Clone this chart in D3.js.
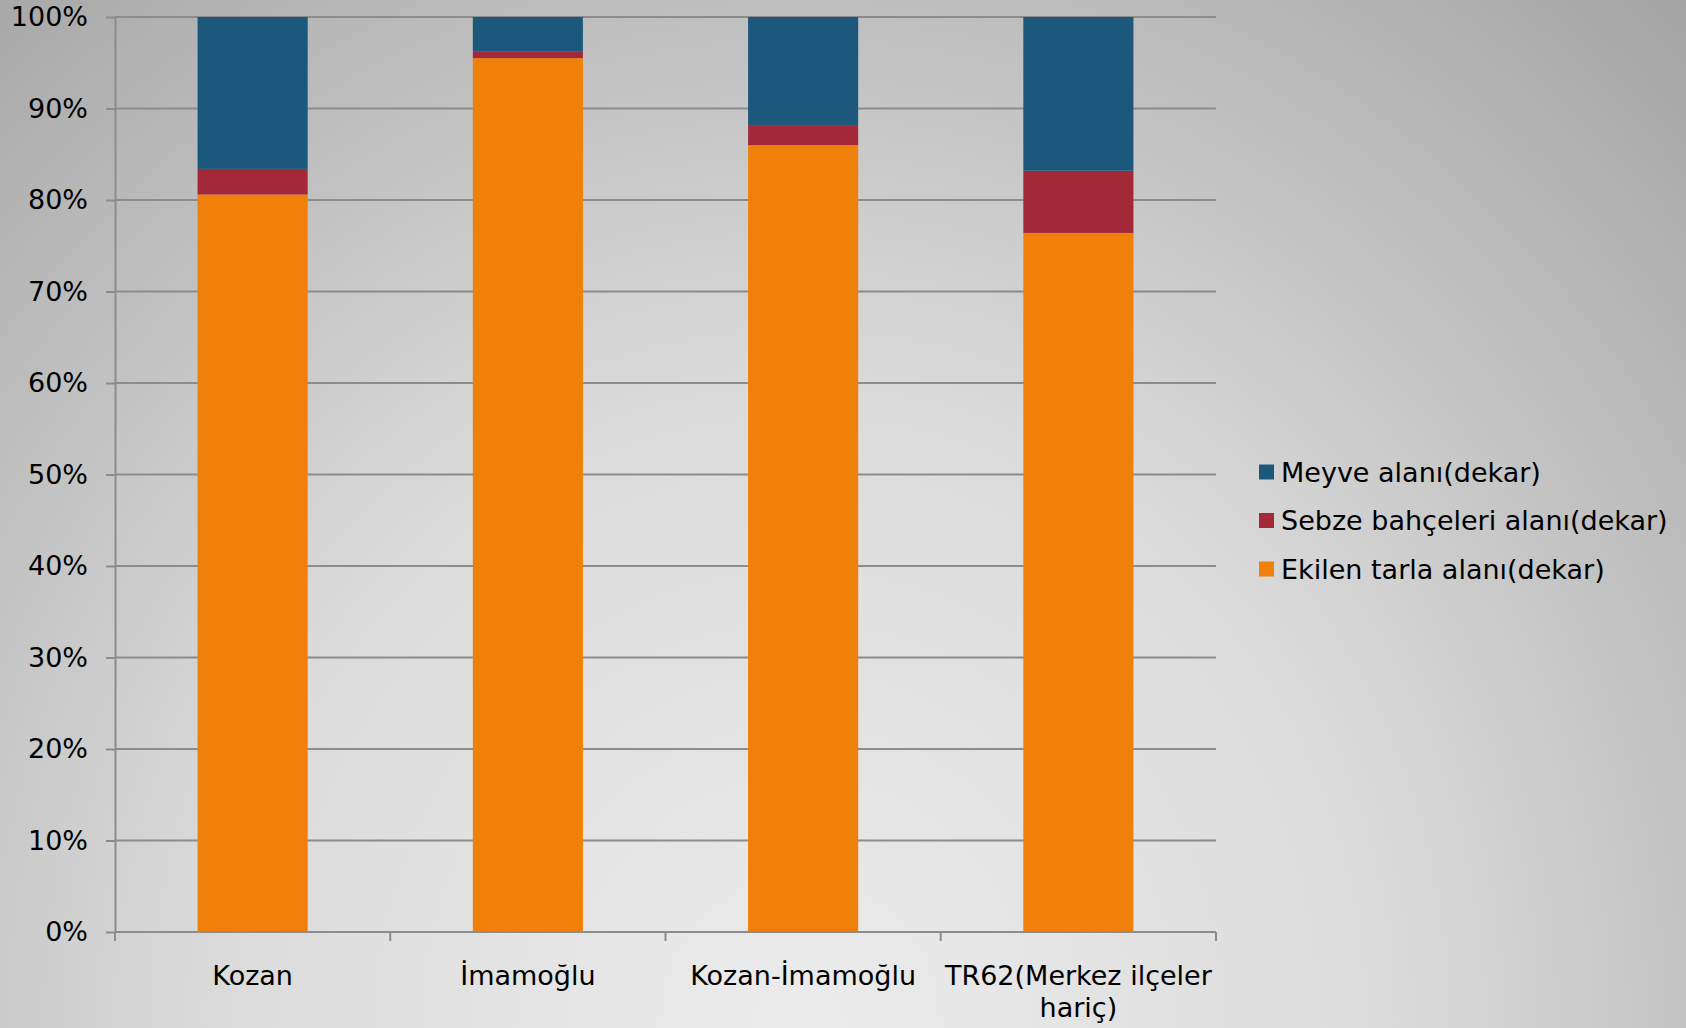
<!DOCTYPE html>
<html>
<head>
<meta charset="utf-8">
<script src="https://cdn.jsdelivr.net/npm/d3@7"></script>
<style>
  html, body { margin: 0; padding: 0; }
  body { width: 1686px; height: 1028px; overflow: hidden; }
  text { font-family: "DejaVu Sans", Verdana, sans-serif; fill: #000; }
</style>
</head>
<body>
<div id="chart"></div>
<script>
// data (percent shares)
const categories = ["Kozan", "İmamoğlu", "Kozan-İmamoğlu", "TR62(Merkez ilçeler hariç)"];
const categoryLines = [["Kozan"], ["İmamoğlu"], ["Kozan-İmamoğlu"], ["TR62(Merkez ilçeler", "hariç)"]];
const seriesNames = ["Ekilen tarla alanı(dekar)", "Sebze bahçeleri alanı(dekar)", "Meyve alanı(dekar)"];
const ekilen = [80.6, 95.5, 86.0, 76.4];
const sebze = [2.8, 0.7, 2.1, 6.8];
const meyve = [16.6, 3.8, 11.9, 16.8];
const yTicks = [0, 10, 20, 30, 40, 50, 60, 70, 80, 90, 100];
const colors = ["#f08009", "#a32838", "#1c587b"];

const width = 1686;
const height = 1028;
const margin = { top: 17, right: 470, bottom: 96, left: 115 };
const fontSize = 27;

const svg = d3
  .select("#chart")
  .append("svg")
  .attr("width", width)
  .attr("height", height);

// background: soft light spot near the bottom, darker towards the corners
const defs = svg.append("defs");
const grad = defs
  .append("radialGradient")
  .attr("id", "bg")
  .attr("gradientUnits", "userSpaceOnUse")
  .attr("cx", 0)
  .attr("cy", 0)
  .attr("r", 1)
  .attr("gradientTransform", "translate(800,1028) scale(1300,1400)");
grad.append("stop").attr("offset", "0%").attr("stop-color", "#ececec");
grad.append("stop").attr("offset", "45%").attr("stop-color", "#dbdbdb");
grad.append("stop").attr("offset", "100%").attr("stop-color", "#a4a4a4");
svg.append("rect").attr("width", width).attr("height", height).attr("fill", "url(#bg)");

const x = d3
  .scaleBand()
  .domain(categories)
  .range([margin.left, width - margin.right]);

const y = d3
  .scaleLinear()
  .domain([0, 100])
  .range([height - margin.bottom, margin.top]);

const rows = categories.map((c, i) => ({
  cat: c,
  [seriesNames[0]]: ekilen[i],
  [seriesNames[1]]: sebze[i],
  [seriesNames[2]]: meyve[i],
}));
const stacked = d3.stack().keys(seriesNames)(rows);

// y axis + gridlines
const yAxis = svg
  .append("g")
  .attr("transform", `translate(${margin.left},0)`)
  .call(
    d3.axisLeft(y)
      .tickValues(yTicks)
      .tickFormat((d) => d + "%")
      .tickSizeOuter(0)
      .tickSizeInner(9)
      .tickPadding(18)
  );
yAxis.select(".domain").attr("stroke", "#8c8c8c").attr("stroke-width", 2);
yAxis.selectAll(".tick line").attr("stroke", "#8c8c8c").attr("stroke-width", 2);
yAxis.selectAll(".tick text").attr("font-size", fontSize).style("font-family", '"DejaVu Sans", sans-serif');

svg
  .append("g")
  .selectAll("line")
  .data(yTicks.filter((d) => d > 0))
  .enter()
  .append("line")
  .attr("x1", margin.left)
  .attr("x2", width - margin.right)
  .attr("y1", (d) => y(d))
  .attr("y2", (d) => y(d))
  .attr("stroke", "#8c8c8c")
  .attr("stroke-width", 2);

// bars
const barW = x.bandwidth() * 0.4;
svg
  .append("g")
  .selectAll("g")
  .data(stacked)
  .enter()
  .append("g")
  .attr("fill", (d, i) => colors[i])
  .selectAll("rect")
  .data((d) => d)
  .enter()
  .append("rect")
  .attr("x", (d) => x(d.data.cat) + (x.bandwidth() - barW) / 2)
  .attr("width", barW)
  .attr("y", (d) => y(d[1]))
  .attr("height", (d) => y(d[0]) - y(d[1]));

// x axis
const xAxis = svg
  .append("g")
  .attr("transform", `translate(0,${y(0)})`);
xAxis
  .append("line")
  .attr("x1", margin.left)
  .attr("x2", width - margin.right)
  .attr("stroke", "#8c8c8c")
  .attr("stroke-width", 2);
const bounds = categories.map((c) => x(c)).concat([x.range()[1]]);
xAxis
  .selectAll(".xtick")
  .data(bounds)
  .enter()
  .append("line")
  .attr("x1", (d) => d)
  .attr("x2", (d) => d)
  .attr("y1", 0)
  .attr("y2", 9)
  .attr("stroke", "#8c8c8c")
  .attr("stroke-width", 2);

const labels = xAxis
  .selectAll(".xlabel")
  .data(categories)
  .enter()
  .append("text")
  .attr("text-anchor", "middle")
  .attr("font-size", fontSize)
  .attr("transform", (d) => `translate(${x(d) + x.bandwidth() / 2},53)`);
labels
  .selectAll("tspan")
  .data((d, i) => categoryLines[i])
  .enter()
  .append("tspan")
  .attr("x", 0)
  .attr("dy", (d, i) => (i === 0 ? 0 : 32))
  .text((d) => d);

// legend (top item is the top of the stack)
const legendOrder = [2, 1, 0];
const legend = svg
  .append("g")
  .attr("transform", "translate(1259,472)");
const items = legend
  .selectAll("g")
  .data(legendOrder)
  .enter()
  .append("g")
  .attr("transform", (d, i) => `translate(0,${i * 48.5})`);
items
  .append("rect")
  .attr("y", -7.5)
  .attr("width", 15)
  .attr("height", 15)
  .attr("fill", (d) => colors[d]);
items
  .append("text")
  .attr("x", 22)
  .attr("dy", "0.36em")
  .attr("font-size", fontSize)
  .text((d) => seriesNames[d]);
</script>
</body>
</html>
